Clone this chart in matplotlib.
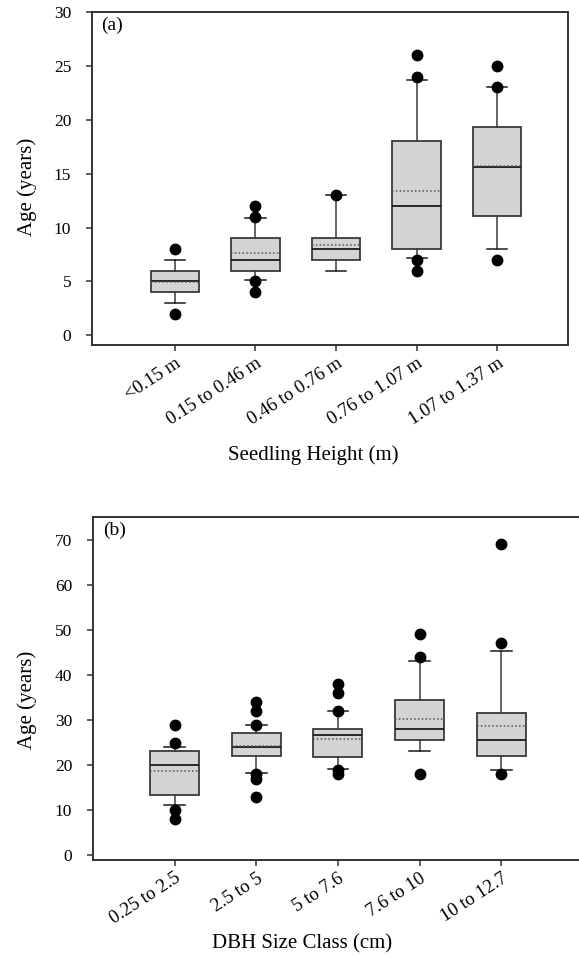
import matplotlib
matplotlib.use("Agg")
import matplotlib.pyplot as plt

plt.rcParams['font.family'] = ['Liberation Serif', 'DejaVu Serif']

# ---- Panel (a) data: seedling height classes ----
cats_a = ["<0.15 m", "0.15 to 0.46 m", "0.46 to 0.76 m", "0.76 to 1.07 m", "1.07 to 1.37 m"]
q1_a = [4, 6, 7, 8, 11.1]
med_a = [5, 7, 8, 12, 15.6]
q3_a = [6, 9, 9, 18, 19.3]
mean_a = [4.9, 7.6, 8.35, 13.35, 15.75]
wlo_a = [3, 5.15, 6, 7.15, 8.05]
whi_a = [7, 10.9, 13, 23.7, 23.0]
fliers_a = [[8, 2], [12, 11, 5, 4], [13], [26, 24, 7, 6], [25, 23, 7]]
yticks_a = [0, 5, 10, 15, 20, 25, 30]

# ---- Panel (b) data: DBH size classes ----
cats_b = ["0.25 to 2.5", "2.5 to 5", "5 to 7.6", "7.6 to 10", "10 to 12.7"]
q1_b = [13.5, 22.0, 21.8, 25.5, 22.1]
med_b = [20.0, 24.1, 26.6, 28.0, 25.6]
q3_b = [23.1, 27.1, 28.0, 34.4, 31.6]
mean_b = [18.7, 24.3, 25.8, 30.2, 28.6]
wlo_b = [11.1, 18.2, 19.1, 23.1, 18.9]
whi_b = [24.0, 29.0, 32.0, 43.0, 45.2]
fliers_b = [[29, 25, 10, 8], [34, 32, 29, 18, 17, 13], [38, 36, 32, 19, 18], [49, 44, 18], [69, 47, 18]]
yticks_b = [0, 10, 20, 30, 40, 50, 60, 70]


def make_stats(q1, med, q3, mean, wlo, whi, fl):
    return [dict(q1=a, med=b, q3=c, mean=d, whislo=e, whishi=f, fliers=g)
            for a, b, c, d, e, f, g in zip(q1, med, q3, mean, wlo, whi, fl)]


fig = plt.figure(figsize=(5.79, 9.56), dpi=100)

edge = '#3a3a3a'
face = '#d4d4d4'


def draw(ax, stats, cats, yticks, ylim, xlim, letter, xlabel, xlab_pos, ylab_pos):
    ax.bxp(stats, positions=range(1, len(stats) + 1), widths=0.6, capwidths=0.25,
           showmeans=True, meanline=True, patch_artist=True,
           boxprops=dict(facecolor=face, edgecolor=edge, linewidth=1.3),
           medianprops=dict(color='#1a1a1a', linewidth=1.3),
           meanprops=dict(color='#555555', linestyle=(0, (1, 1.5)), linewidth=1.1),
           whiskerprops=dict(color=edge, linewidth=1.1),
           capprops=dict(color='#1a1a1a', linewidth=1.1),
           flierprops=dict(marker='o', markerfacecolor='black', markeredgecolor='black',
                           markersize=7.5, linestyle='none'))
    ax.set_xlim(*xlim)
    ax.set_ylim(*ylim)
    ax.set_yticks(yticks)
    ax.set_xticks(range(1, len(cats) + 1))
    ax.set_xticklabels(cats, rotation=33, ha='right', rotation_mode='anchor')
    ax.tick_params(axis='both', length=4, width=1.1, color='#333333', direction='out')
    ax.tick_params(axis='y', labelsize=12.5, pad=11)
    ax.tick_params(axis='x', labelsize=13.5, pad=3)
    for s in ax.spines.values():
        s.set_color('#333333')
        s.set_linewidth(1.4)
    ax.set_ylabel("Age (years)", fontsize=15)
    ax.yaxis.set_label_coords(*ylab_pos)
    ax.set_xlabel(xlabel, fontsize=15)
    ax.xaxis.set_label_coords(*xlab_pos)
    ax.text(0.02, 0.985, letter, transform=ax.transAxes, fontsize=14, va='top', ha='left')


ax1 = fig.add_axes([92 / 579, 1 - 345 / 956, (568 - 92) / 579, (345 - 12) / 956])
draw(ax1, make_stats(q1_a, med_a, q3_a, mean_a, wlo_a, whi_a, fliers_a), cats_a,
     yticks_a, (-0.9, 30), (-0.03, 5.88), "(a)", "Seedling Height (m)",
     ((313 - 92) / 476, -(455 - 345) / 333), (-(92 - 27) / 476, (345 - 187) / 333))

ax2 = fig.add_axes([93 / 579, 1 - 860 / 956, (583 - 93) / 579, (860 - 517) / 956])
draw(ax2, make_stats(q1_b, med_b, q3_b, mean_b, wlo_b, whi_b, fliers_b), cats_b,
     yticks_b, (-1, 75), (0, 6.0), "(b)", "DBH Size Class (cm)",
     ((302 - 93) / 490, -(944 - 860) / 343), (-(93 - 27) / 490, (860 - 700) / 343))

for ax in (ax1, ax2):
    ax.xaxis.label.set_va('center')
    ax.yaxis.label.set_va('center')

fig.savefig("out.png", dpi=100)
